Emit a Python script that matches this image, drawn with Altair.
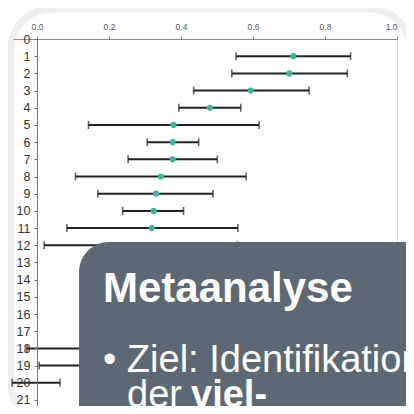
import altair as alt
import pandas as pd

# --- data ---
rows = [1, 2, 3, 4, 5, 6, 7, 8, 9, 10, 11, 12, 18, 19, 20]
est = [0.712, 0.701, 0.594, 0.480, 0.379, 0.377, 0.377, 0.344, 0.331, 0.324, 0.319, 0.320, 0.300, 0.280, None]
lo = [0.553, 0.541, 0.435, 0.394, 0.143, 0.306, 0.253, 0.107, 0.169, 0.238, 0.083, 0.020, -0.028, 0.006, -0.069]
hi = [0.871, 0.862, 0.756, 0.566, 0.617, 0.449, 0.501, 0.581, 0.489, 0.407, 0.558, 0.556, 0.600, 0.550, 0.064]
x_ticks = [0.0, 0.2, 0.4, 0.6, 0.8, 1.0]
y_ticks = list(range(0, 22))

title_text = "Metaanalyse"
bullet_text = "• Ziel: Identifikation"
line2_a = "der"
line2_b = "viel-"
line3 = "versprechendsten"

df = pd.DataFrame({"row": rows, "est": est, "lo": lo, "hi": hi})
one = pd.DataFrame({"a": [0]})

FONT = "Liberation Sans"
W, H = 384, 367

xs = alt.Scale(domain=[-0.0667, 1.0], nice=False, zero=False, padding=0)
ys = alt.Scale(domain=[0, 21.35], nice=False, zero=False, reverse=True, padding=0)

x_axis = alt.Axis(orient="top", values=x_ticks, format=".1f", grid=False,
                  labelFontSize=8.5, labelColor="#555555", labelFont=FONT,
                  tickSize=3, tickColor="#888888", domainColor="#888888",
                  labelPadding=5, title=None, zindex=1, labelOverlap=False)
y_axis = alt.Axis(orient="left", values=y_ticks, format="d", grid=False,
                  labelFontSize=12.5, labelColor="#333333", labelFont=FONT,
                  tickSize=3, tickColor="#666666", domainColor="#777777",
                  labelPadding=4, offset=-24, title=None, zindex=1,
                  labelOverlap=False, labelFlush=False)

X_lo = alt.X("lo:Q", scale=xs, axis=x_axis)
X_hi = alt.X("hi:Q", scale=xs, axis=x_axis)
X_est = alt.X("est:Q", scale=xs, axis=x_axis)
Y_row = alt.Y("row:Q", scale=ys, axis=y_axis)

frame = alt.Chart(one).mark_rect(
    fillOpacity=0, stroke="#eeeeee", strokeWidth=7, cornerRadius=40
).encode(x=alt.value(-2), x2=alt.value(397), y=alt.value(-30), y2=alt.value(385))

bars = alt.Chart(df).mark_rule(color="#222222", strokeWidth=2).encode(
    x=X_lo, x2="hi:Q", y=Y_row)
cap_lo = alt.Chart(df).mark_tick(orient="vertical", color="#222222", size=8, thickness=1.6).encode(
    x=X_lo, y=Y_row)
cap_hi = alt.Chart(df).mark_tick(orient="vertical", color="#222222", size=8, thickness=1.6).encode(
    x=X_hi, y=Y_row)
pts = alt.Chart(df).mark_circle(color="#3fb5a0", size=38, opacity=1).encode(
    x=X_est, y=Y_row)

box = alt.Chart(one).mark_rect(fill="#5d6972", cornerRadiusTopLeft=30).encode(
    x=alt.value(66), x2=alt.value(420), y=alt.value(203), y2=alt.value(400))

t1 = alt.Chart(one).mark_text(text=title_text, font=FONT, fontSize=42, fontWeight="bold",
                              color="white", align="left", baseline="alphabetic").encode(
    x=alt.value(90), y=alt.value(263))
t2 = alt.Chart(one).mark_text(text=bullet_text, font=FONT, fontSize=38,
                              color="white", align="left", baseline="alphabetic").encode(
    x=alt.value(90), y=alt.value(332.5))
t3a = alt.Chart(one).mark_text(text=line2_a, font=FONT, fontSize=38,
                               color="white", align="left", baseline="alphabetic").encode(
    x=alt.value(114), y=alt.value(367.5))
t3b = alt.Chart(one).mark_text(text=line2_b, font=FONT, fontSize=38, fontWeight="bold",
                               color="white", align="left", baseline="alphabetic").encode(
    x=alt.value(178), y=alt.value(367.5))
t4 = alt.Chart(one).mark_text(text=line3, font=FONT, fontSize=38, fontWeight="bold",
                              color="white", align="left", baseline="alphabetic").encode(
    x=alt.value(114), y=alt.value(403))

chart = alt.layer(frame, bars, cap_lo, cap_hi, pts, box, t1, t2, t3a, t3b, t4).properties(
    width=W, height=H,
    autosize=alt.AutoSizeParams(type="none"),
    padding={"left": 5, "top": 31, "right": 9, "bottom": 0},
).configure_view(stroke=None).configure(background="white")

chart.save("out.html", embed_options={"renderer": "svg", "actions": False})
